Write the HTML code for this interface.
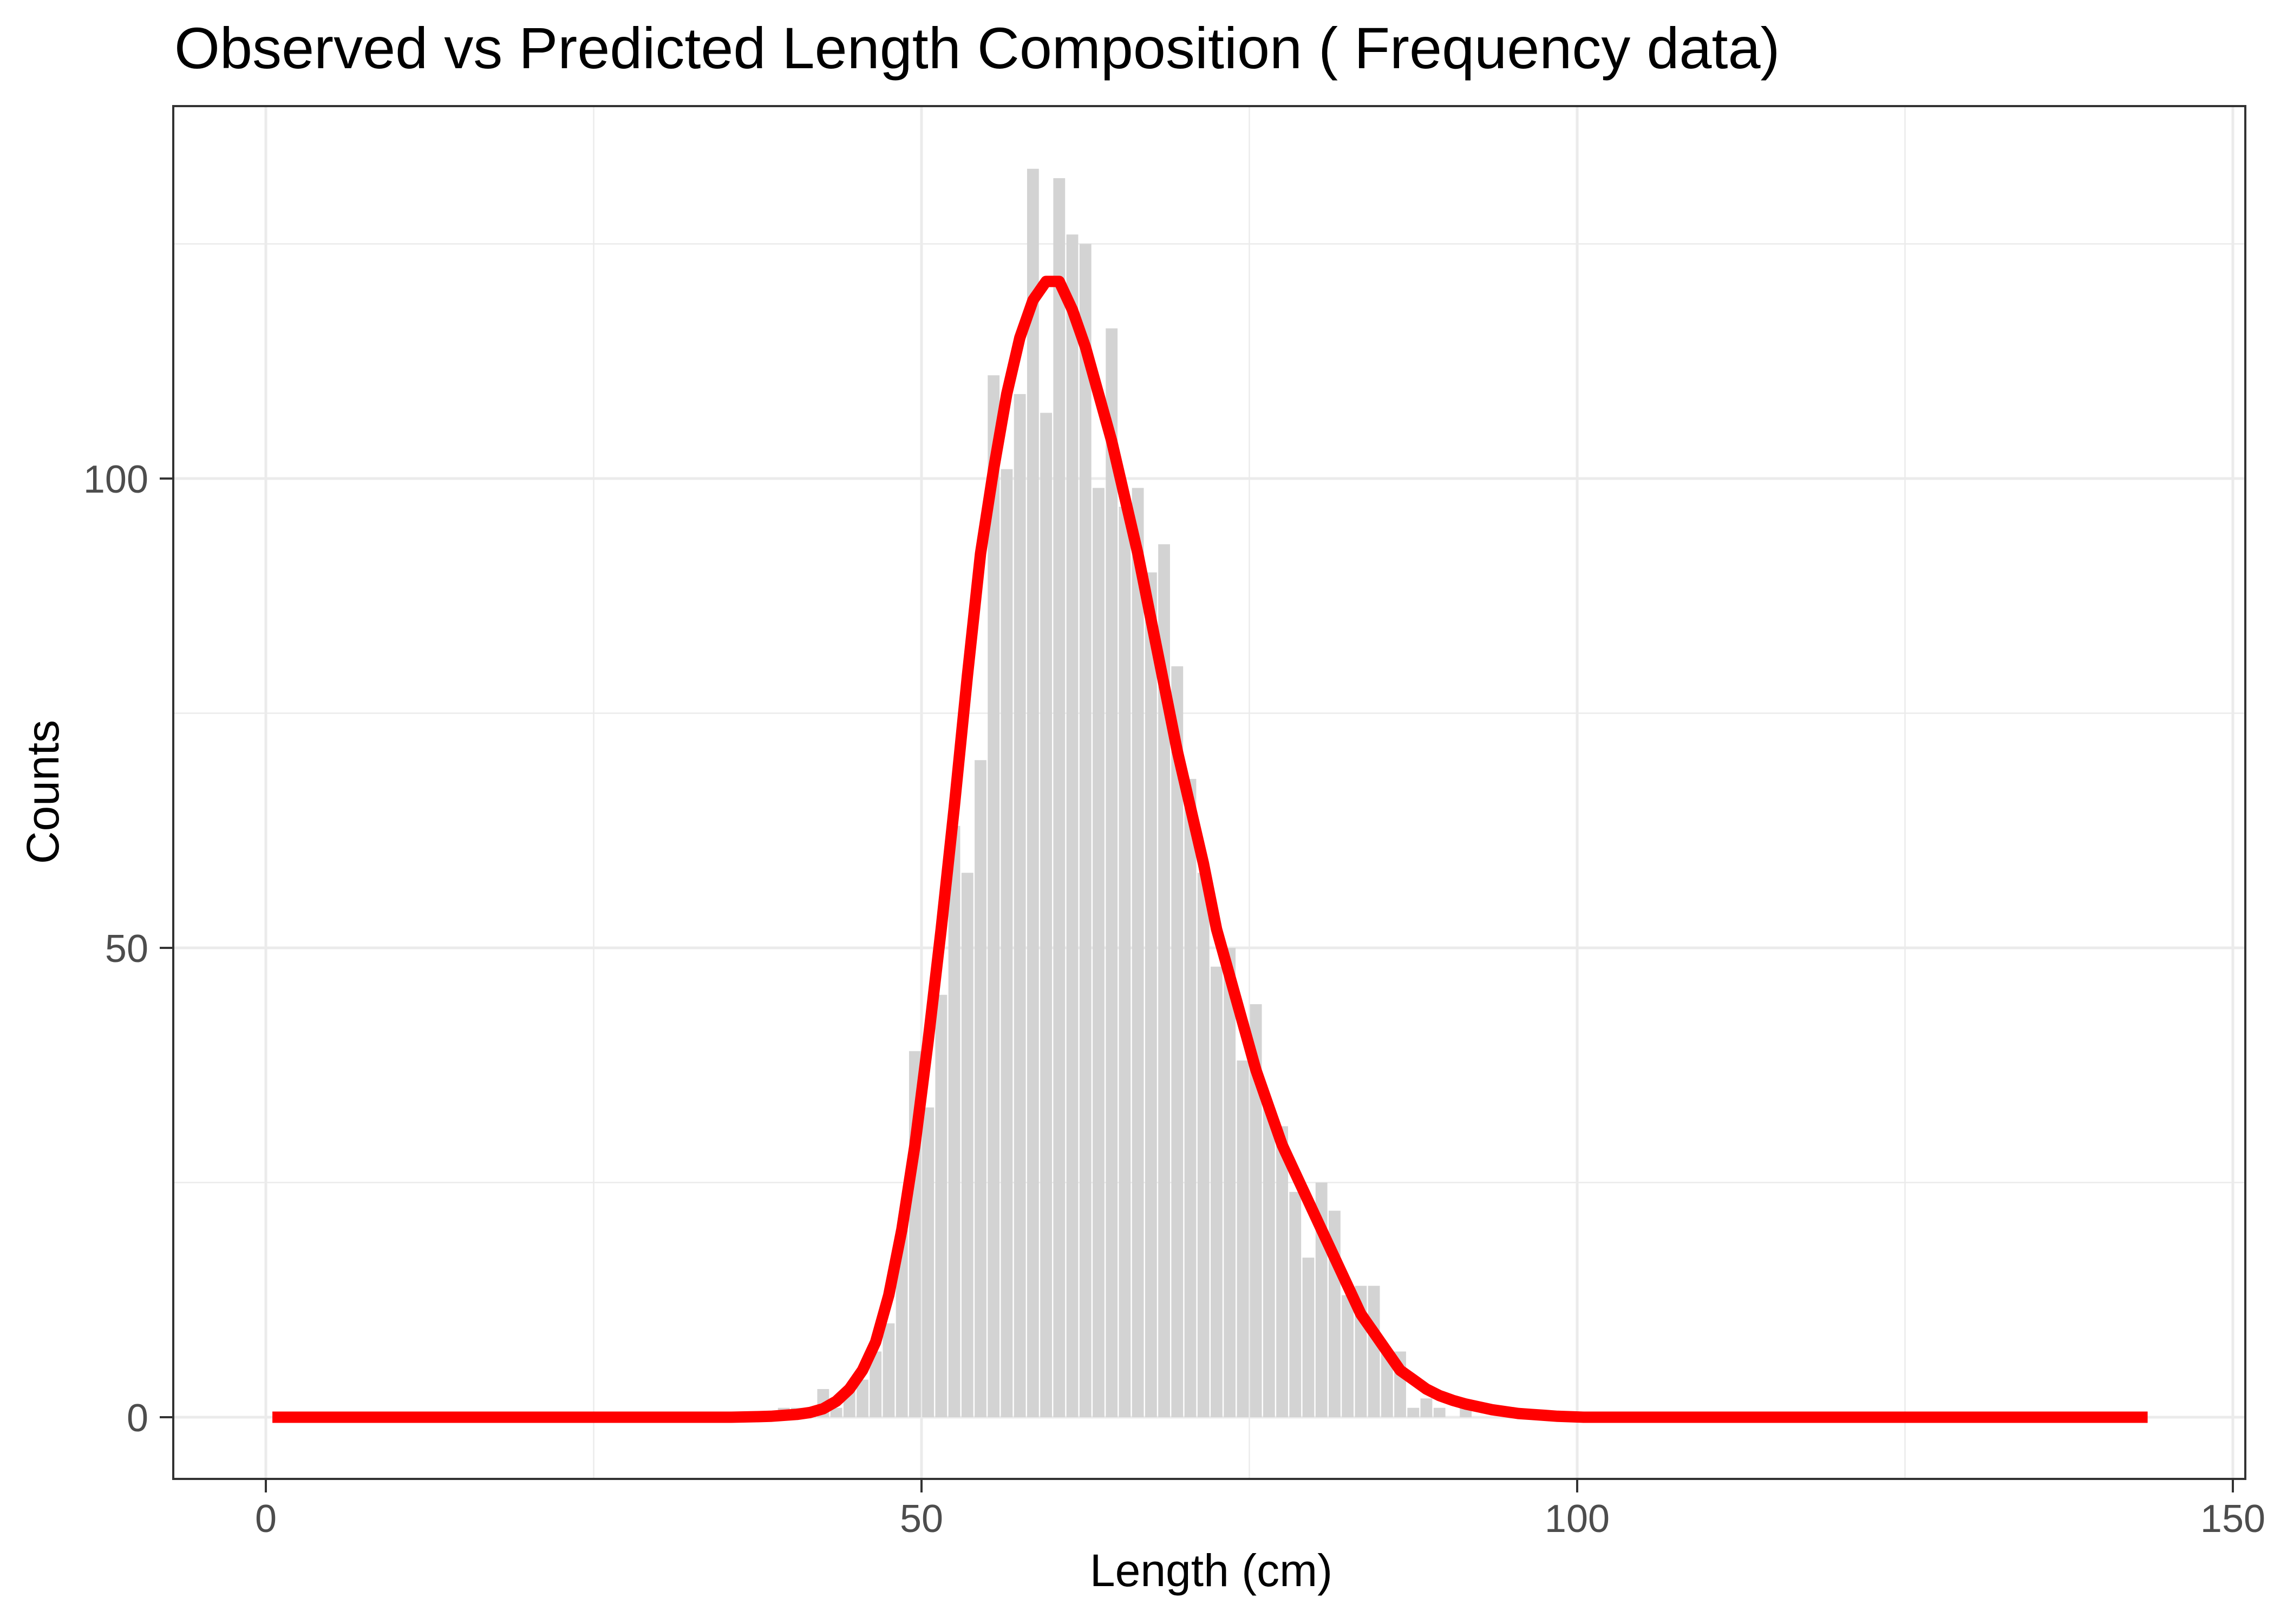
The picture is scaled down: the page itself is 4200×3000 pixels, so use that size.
<!DOCTYPE html>
<html><head><meta charset="utf-8">
<style>
html,body{margin:0;padding:0;background:#fff;}
svg{display:block;font-family:"Liberation Sans",Arial,sans-serif;}
</style></head>
<body>
<svg id="chart" width="4200" height="3000" viewBox="0 0 4200 3000" xmlns="http://www.w3.org/2000/svg">
<rect x="0" y="0" width="4200" height="3000" fill="#fff"/>
<text x="322" y="126" font-size="108" fill="#000">Observed vs Predicted Length Composition ( Frequency data)</text>
<g id="grid"></g>
<g id="bars"></g>
<g id="line"></g>
<rect x="320" y="196" width="3827" height="2536" fill="none" stroke="#333" stroke-width="4"/>
<g id="axes"></g>
<text x="2237" y="2930" font-size="84" text-anchor="middle" fill="#000">Length (cm)</text>
<text x="0" y="0" font-size="84" text-anchor="middle" fill="#000" transform="translate(108,1463) rotate(-90)">Counts</text>
</svg>
<script>
const xTicks = [0, 50, 100, 150];
const xMinor = [25, 75, 125];
const yTicks = [0, 50, 100];
const yMinor = [25, 75, 125];
const obsX = [39.5,40.5,41.5,42.5,43.5,44.5,45.5,46.5,47.5,48.5,49.5,50.5,51.5,52.5,53.5,54.5,55.5,56.5,57.5,58.5,59.5,60.5,61.5,62.5,63.5,64.5,65.5,66.5,67.5,68.5,69.5,70.5,71.5,72.5,73.5,74.5,75.5,76.5,77.5,78.5,79.5,80.5,81.5,82.5,83.5,84.5,85.5,86.5,87.5,88.5,89.5,90.5,91.5];
const obsCounts = [1,1,1,3,1,3,4,7,10,20,39,33,45,63,58,70,111,101,109,133,107,132,126,125,99,116,97,99,90,93,80,68,58,48,50,38,44,33,31,24,17,25,22,13,14,14,7,7,1,2,1,0,1];
const predStart = 0.5;
const predValues = [0,0,0,0,0,0,0,0,0,0,0,0,0,0,0,0,0,0,0,0,0,0,0,0,0,0,0,0,0,0,0,0,0,0,0,0,
0.03,0.06,0.1,0.2,0.3,0.5,0.9,1.7,3,5,8,13,20,29,40,52,65,79,92,101,109,115,119,121,121,118,114,109,104,98,92,85,78,71,65,59,52,47,42,37,33,29,26,23,20,17,14,11,9,7,5,4,3,2.3,1.8,1.4,1.1,0.8,0.6,0.4,0.3,0.2,0.1,0.05,
0,0,0,0,0,0,0,0,0,0,0,0,0,0,0,0,0,0,0,0,0,0,0,0,0,0,0,0,0,0,0,0,0,0,0,0,0,0,0,0,0,0,0,0];

const NS = "http://www.w3.org/2000/svg";
const PL = 320, PR = 4147, PT = 196, PB = 2732;
const xs = v => 491 + v * 24.22;
const ys = v => 2618 - v * 17.34;
function mk(tag, attrs, parent) {
  const e = document.createElementNS(NS, tag);
  for (const k in attrs) e.setAttribute(k, attrs[k]);
  parent.appendChild(e);
  return e;
}
const grid = document.getElementById('grid');
xMinor.forEach(v => {
  const l = mk('line', {x1: xs(v), x2: xs(v), y1: PT, y2: PB, stroke: '#ebebeb', 'stroke-width': 2.5}, grid);
  
  
});
yMinor.forEach(v => {
  const l = mk('line', {x1: PL, x2: PR, y1: ys(v), y2: ys(v), stroke: '#ebebeb', 'stroke-width': 2.5}, grid);
  
  
});
xTicks.forEach(v => {
  const l = mk('line', {x1: xs(v), x2: xs(v), y1: PT, y2: PB, stroke: '#ebebeb', 'stroke-width': 5}, grid);
  
  
});
yTicks.forEach(v => {
  const l = mk('line', {x1: PL, x2: PR, y1: ys(v), y2: ys(v), stroke: '#ebebeb', 'stroke-width': 5}, grid);
  
  
});
const bars = document.getElementById('bars');
obsX.forEach((c, i) => {
  const v = obsCounts[i];
  const y0 = ys(0), y1 = ys(v);
  const r = mk('rect', {x: xs(c - 0.45), y: Math.min(y0, y1), width: 24.22 * 0.9, height: Math.abs(y0 - y1), fill: '#d3d3d3'}, bars);
  
  
});
const line = document.getElementById('line');
const pts = predValues.map((v, i) => xs(predStart + i).toFixed(1) + ',' + ys(v).toFixed(1)).join(' ');
const pl = mk('polyline', {points: pts, fill: 'none', stroke: '#ff0000', 'stroke-width': 21, 'stroke-linejoin': 'round'}, line);


const axes = document.getElementById('axes');
xTicks.forEach(v => {
  const t = mk('line', {x1: xs(v), x2: xs(v), y1: PB, y2: PB + 25, stroke: '#333', 'stroke-width': 4}, axes);
  
  
  const lb = mk('text', {x: xs(v), y: 2830, 'font-size': 72, 'text-anchor': 'middle', fill: '#4d4d4d'}, axes);
  lb.textContent = v;
  
  
});
yTicks.forEach(v => {
  const t = mk('line', {x1: PL - 25, x2: PL, y1: ys(v), y2: ys(v), stroke: '#333', 'stroke-width': 4}, axes);
  
  
  const lb = mk('text', {x: 274, y: ys(v) + 26, 'font-size': 72, 'text-anchor': 'end', fill: '#4d4d4d'}, axes);
  lb.textContent = v;
  
  
});
</script>
</body></html>
